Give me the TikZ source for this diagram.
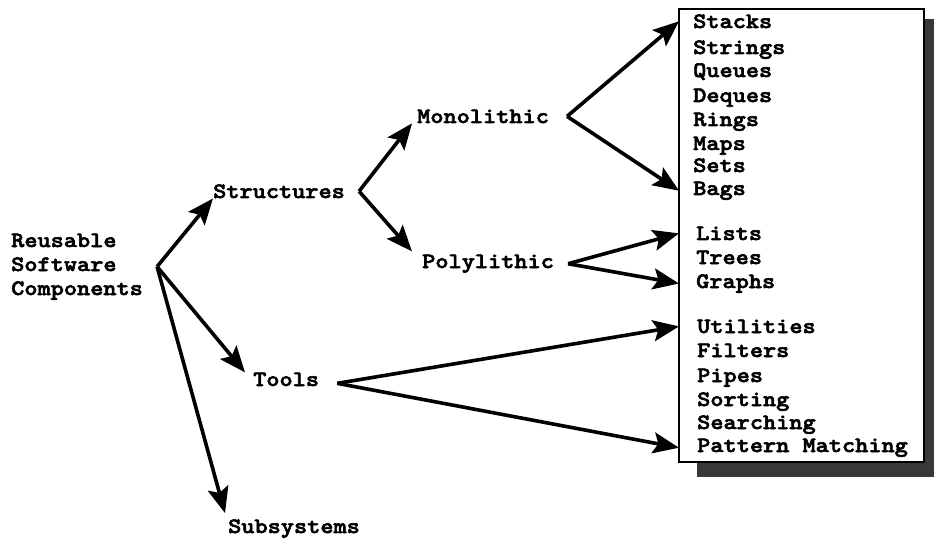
\documentclass[tikz,border=0pt]{standalone}
\usepackage{fontspec}
\usepackage{tikz}
\usetikzlibrary{arrows.meta}
\newfontfamily\typewr[FakeStretch=1.14, FakeBold=2.6]{lmmonolt10-bold.otf}
\tikzset{
  item/.style={font=\typewr\fontsize{22}{24}\selectfont, inner sep=0pt, anchor=base west},
  arr/.style={-{Stealth[length=26pt,width=21pt,inset=5pt]}, line width=3.6pt},
  boxframe/.style={draw, fill=white, line width=2.6pt},
  boxshadow/.style={fill=black!78}
}

\begin{document}
\begin{tikzpicture}[x=1pt,y=-1pt]
    \useasboundingbox (0,0) rectangle (934,540);
    % tree
    \node[item, align=left] (rsc) at (11,295) {Reusable\\Software\\Components};
    \node[item] (structures) at (213,198) {Structures};
    \node[item] (monolithic) at (417,123) {Monolithic};
    \node[item] (polylithic) at (422,268) {Polylithic};
    \node[item] (tools) at (253,386) {Tools};
    \node[item] (subsystems) at (228,533) {Subsystems};
    % list box
    \fill[boxshadow] (697,19) rectangle (934,477);
    \coordinate (boxnw) at (679,9);
    \coordinate (boxse) at (924,462);
    \draw[boxframe] (boxnw) rectangle (boxse);
    \node[item] (stacks) at (693,28) {Stacks};
    \node[item] (strings) at (693,54) {Strings};
    \node[item] (queues) at (693,77) {Queues};
    \node[item] (deques) at (693,102) {Deques};
    \node[item] (rings) at (693,126) {Rings};
    \node[item] (maps) at (693,150) {Maps};
    \node[item] (sets) at (693,172) {Sets};
    \node[item] (bags) at (693,195) {Bags};
    \node[item] (lists) at (696,240) {Lists};
    \node[item] (trees) at (696,264) {Trees};
    \node[item] (graphs) at (696,288) {Graphs};
    \node[item] (utilities) at (697,333) {Utilities};
    \node[item] (filters) at (697,357) {Filters};
    \node[item] (pipes) at (697,382) {Pipes};
    \node[item] (sorting) at (697,406) {Sorting};
    \node[item] (searching) at (697,429) {Searching};
    \node[item] (pattern) at (697,452) {Pattern Matching};
    % arrows
    \coordinate (rj) at ([xshift=14pt]rsc.east);
    \draw[arr] (rj) -- (structures.south west);
    \draw[arr] (rj) -- ([xshift=-8pt]tools.north west);
    \draw[arr] (rj) -- ([xshift=-3pt,yshift=6pt]subsystems.north west);
    \coordinate (sj) at ([xshift=14pt]structures.east);
    \draw[arr] (sj) -- ([xshift=-5pt]monolithic.south west);
    \draw[arr] (sj) -- ([xshift=-10pt,yshift=3pt]polylithic.north west);
    \coordinate (mj) at ([xshift=18pt]monolithic.east);
    \draw[arr] (mj) -- (boxnw |- stacks.west);
    \draw[arr] (mj) -- (boxnw |- bags.west);
    \coordinate (pj) at ([xshift=14pt]polylithic.east);
    \draw[arr] (pj) -- (boxnw |- lists.west);
    \draw[arr] (pj) -- (boxnw |- graphs.west);
    \coordinate (tj) at ([xshift=18pt,yshift=-4pt]tools.east);
    \draw[arr] (tj) -- (boxnw |- utilities.west);
    \draw[arr] (tj) -- (boxnw |- pattern.west);
\end{tikzpicture}
\end{document}
